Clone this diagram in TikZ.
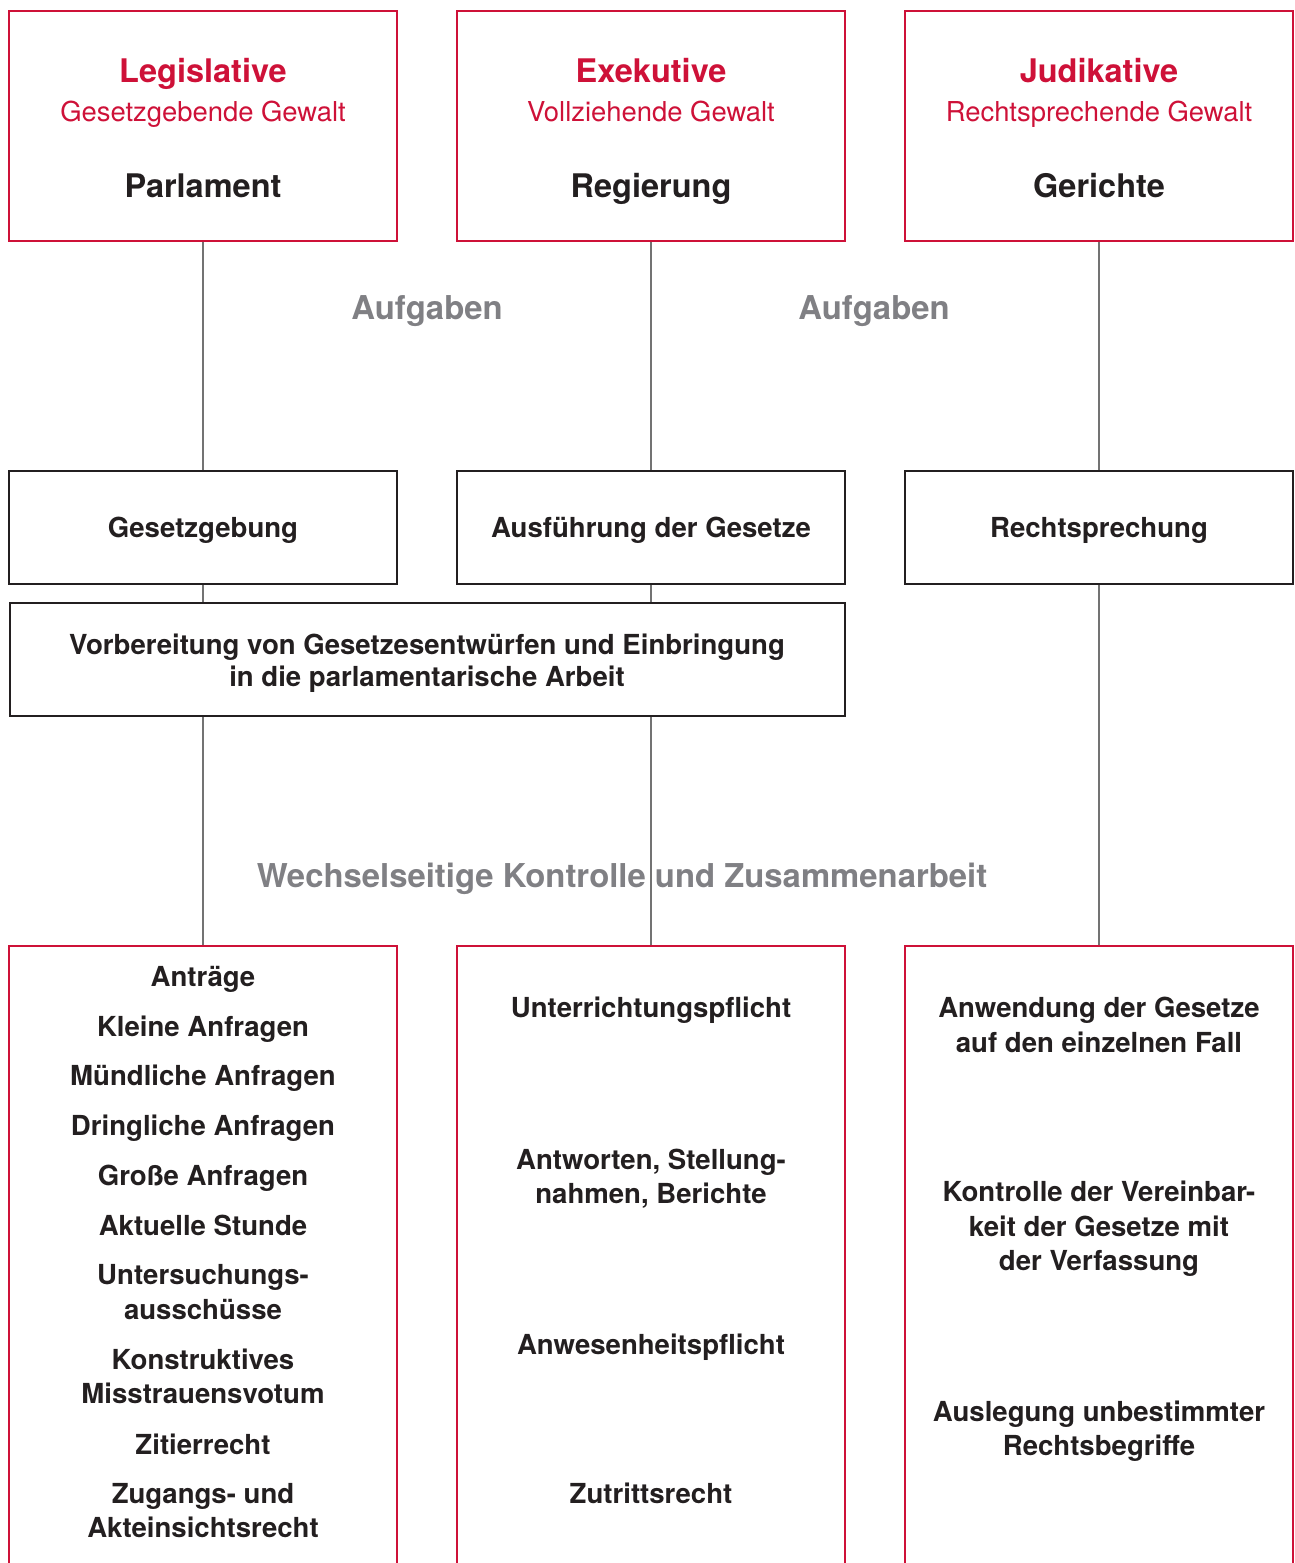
\documentclass[tikz,border=0pt]{standalone}
\usepackage{fontspec}
\setmainfont{TeX Gyre Heros}
\usetikzlibrary{positioning}
\definecolor{bred}{RGB}{206,17,56}
\definecolor{bgray}{RGB}{128,128,132}
\definecolor{lgray}{RGB}{115,115,115}
\definecolor{bblack}{RGB}{35,31,32}
\tikzset{
  gewalt/.style={draw=bred, line width=1.2pt, minimum width=7.76cm, minimum height=4.6cm, inner sep=0pt},
  aufgabe/.style={draw=bblack, line width=1.4pt, minimum width=7.76cm, minimum height=2.26cm, inner sep=0pt, text depth=0pt},
  kontrolle/.style={draw=bred, line width=1.2pt, minimum width=7.76cm, minimum height=15cm, inner sep=0pt, anchor=north},
  titel/.style={text=bred, anchor=base, font=\fontsize{18.5}{22}\selectfont\bfseries},
  untertitel/.style={text=bred, anchor=base, font=\fontsize{15.6}{19}\selectfont},
  organ/.style={text=bblack, anchor=base, font=\fontsize{18.5}{22}\selectfont\bfseries},
  grau/.style={text=bgray, anchor=base, font=\fontsize{18.7}{22}\selectfont\bfseries},
  punkt/.style={text=bblack, align=center, inner sep=0pt, font=\fontsize{15.7}{19.6}\selectfont\bfseries},
  linie/.style={draw=lgray, line width=1.2pt}
}
\begin{document}
\begin{tikzpicture}[x=0.02cm, y=-0.02cm]
\useasboundingbox (0,0) rectangle (1295,1563);
\clip (0,0) rectangle (1295,1563);

% Gewalten
\node[gewalt](leg) at (203,126) {};
\node[gewalt](exe) at (651,126) {};
\node[gewalt](jud) at (1099,126) {};
\node[titel](legT) at (203,82) {Legislative};
\node[titel](exeT) at (651,82) {Exekutive};
\node[titel](judT) at (1099,82) {Judikative};
\node[untertitel](legU) at (203,121) {Gesetzgebende Gewalt};
\node[untertitel](exeU) at (651,121) {Vollziehende Gewalt};
\node[untertitel](judU) at (1099,121) {Rechtsprechende Gewalt};
\node[organ](legO) at (203,197) {Parlament};
\node[organ](exeO) at (651,197) {Regierung};
\node[organ](judO) at (1099,197) {Gerichte};

\node[grau](auf1) at (427,319) {Aufgaben};
\node[grau](auf2) at (874,319) {Aufgaben};

% Aufgaben
\node[aufgabe,punkt](gesetz) at (203,527.5) {Gesetzgebung};
\node[aufgabe,punkt](ausf) at (651,527.5) {Ausführung der Gesetze};
\node[aufgabe,punkt](rspr) at (1099,527.5) {Rechtsprechung};
\node[aufgabe,minimum width=16.7cm](vorb) at (427.5,659.5) {};
\node[punkt,font=\fontsize{15.7}{18.2}\selectfont\bfseries](vorbT) at (427,663) {Vorbereitung von Gesetzesentwürfen und Einbringung\\in die parlamentarische Arbeit};

\node[grau](wechsel) at (622,887) {Wechselseitige Kontrolle und Zusammenarbeit};

% Kontrolle und Zusammenarbeit
\node[kontrolle](legK) at (203,945) {};
\node[kontrolle](exeK) at (651,945) {};
\node[kontrolle](judK) at (1099,945) {};

\node[punkt,anchor=base](l1) at (203,986) {Anträge};
\node[punkt,anchor=base](l2) at (203,1036) {Kleine Anfragen};
\node[punkt,anchor=base](l3) at (203,1085) {Mündliche Anfragen};
\node[punkt,anchor=base](l4) at (203,1135) {Dringliche Anfragen};
\node[punkt,anchor=base](l5) at (203,1185) {Große Anfragen};
\node[punkt,anchor=base](l6) at (203,1235) {Aktuelle Stunde};
\node[punkt](l7) at (203,1292) {Untersuchungs-\\ausschüsse};
\node[punkt](l8) at (203,1376.5) {Konstruktives\\Misstrauensvotum};
\node[punkt,anchor=base](l9) at (203,1454) {Zitierrecht};
\node[punkt](l10) at (203,1510.5) {Zugangs- und\\Akteinsichtsrecht};

\node[punkt,anchor=base](m1) at (651,1017) {Unterrichtungspflicht};
\node[punkt](m2) at (651,1178.5) {Antworten, Stellung-\\nahmen, Berichte};
\node[punkt,anchor=base](m3) at (651,1354) {Anwesenheitspflicht};
\node[punkt,anchor=base](m4) at (651,1503) {Zutrittsrecht};

\node[punkt](r1) at (1099,1025) {Anwendung der Gesetze\\auf den einzelnen Fall};
\node[punkt](r2) at (1099,1229) {Kontrolle der Vereinbar-\\keit der Gesetze mit\\der Verfassung};
\node[punkt](r3) at (1099,1431) {Auslegung unbestimmter\\Rechtsbegriffe};

\draw[linie] (leg) -- (gesetz)
  (exe) -- (ausf)
  (jud) -- (rspr)
  (gesetz.south) -- (gesetz.south |- vorb.north)
  (ausf.south) -- (ausf.south |- vorb.north)
  (vorb.south -| legK.north) -- (legK.north)
  (vorb.south -| exeK.north) -- (exeK.north)
  (rspr.south) -- (judK.north);

\end{tikzpicture}
\end{document}
